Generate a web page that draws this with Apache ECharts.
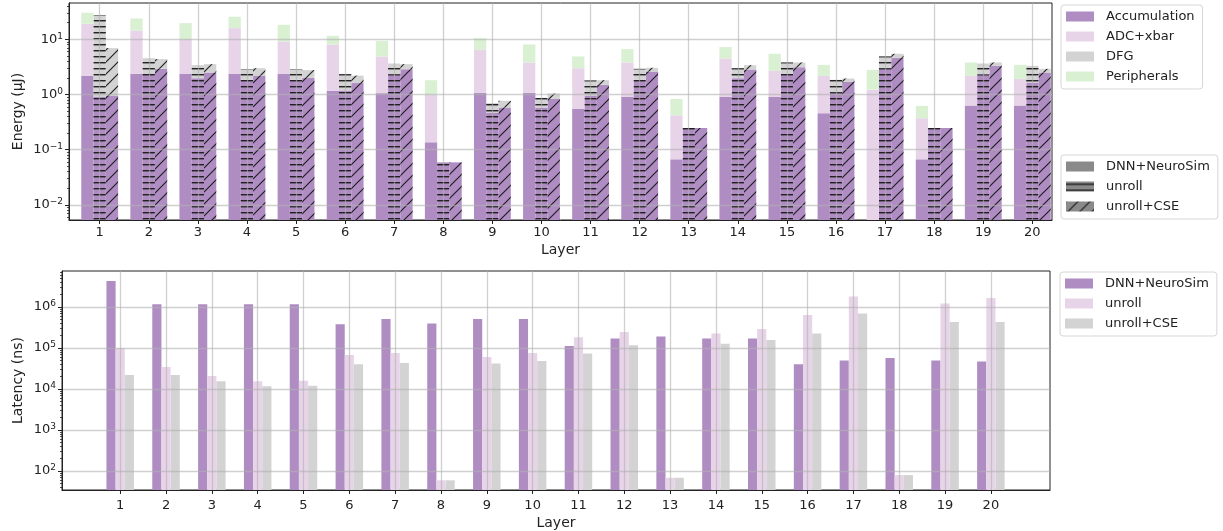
<!DOCTYPE html>
<html><head><meta charset="utf-8">
<script src="https://cdn.jsdelivr.net/npm/echarts@6/dist/echarts.min.js"></script>
<style>html,body{margin:0;padding:0;background:#fff}#c{width:1223px;height:531px}</style>
</head><body><div id="c"></div>
<script>
// ---------------- data ----------------
const layers = [1,2,3,4,5,6,7,8,9,10,11,12,13,14,15,16,17,18,19,20];
const components = ['Accumulation', 'ADC+xbar', 'DFG', 'Peripherals'];
const configs = ['DNN+NeuroSim', 'unroll', 'unroll+CSE'];

// Energy (uJ), stacked components per configuration
const neurosimAccum  = [2.18, 2.37, 2.37, 2.37, 2.37, 1.17, 1.06, 0.136, 1.07, 1.07, 0.55, 0.907, 0.067, 0.907, 0.907, 0.458, 0, 0.067, 0.63, 0.63];
const neurosimAdc    = [17.0, 12.1, 7.7, 13.6, 6.8, 6.9, 3.84, 0.85, 5.4, 2.74, 2.45, 2.9, 0.353, 3.6, 1.78, 1.72, 1.22, 0.305, 1.55, 1.29];
const neurosimDfg    = [0,0,0,0,0,0,0,0,0,0,0,0,0,0,0,0,0,0,0,0];
const neurosimPeriph = [11.1, 9.4, 9.6, 9.7, 9.2, 3.5, 4.5, 0.83, 4.0, 4.27, 1.9, 2.84, 0.41, 2.73, 2.78, 1.27, 1.58, 0.25, 1.63, 1.53];

const unrollAccum  = [0.9, 2.4, 1.98, 1.85, 1.85, 1.18, 2.28, 0.059, 0.47, 0.58, 0.96, 1.85, 0.248, 1.98, 2.37, 1.07, 2.92, 0.248, 2.31, 1.65];
const unrollAdc    = [0,0,0,0,0,0,0,0,0,0,0,0,0,0,0,0,0,0,0,0];
const unrollDfg    = [26.6, 2.16, 1.43, 1.03, 1.03, 1.16, 1.32, 0, 0.23, 0.29, 0.84, 1.07, 0, 1.02, 1.44, 0.78, 1.98, 0, 1.29, 1.66];
const unrollPeriph = [0,0,0,0,0,0,0,0,0,0,0,0,0,0,0,0,0,0,0,0];

const cseAccum  = [0.96, 2.92, 2.51, 2.21, 2.0, 1.61, 2.88, 0.059, 0.58, 0.83, 1.5, 2.61, 0.248, 2.84, 3.13, 1.70, 4.63, 0.248, 3.31, 2.51];
const cseAdc    = [0,0,0,0,0,0,0,0,0,0,0,0,0,0,0,0,0,0,0,0];
const cseDfg    = [5.97, 1.46, 1.04, 0.79, 0.77, 0.59, 0.67, 0, 0.19, 0.21, 0.32, 0.44, 0, 0.56, 0.68, 0.25, 0.84, 0, 0.5, 0.41];
const csePeriph = [0,0,0,0,0,0,0,0,0,0,0,0,0,0,0,0,0,0,0,0];

// Latency (ns)
const latNeurosim = [4.36e6, 1.17e6, 1.17e6, 1.17e6, 1.17e6, 3.81e5, 5.14e5, 3.95e5, 5.14e5, 5.14e5, 1.12e5, 1.7e5, 1.9e5, 1.7e5, 1.7e5, 4.0e4, 4.93e4, 5.73e4, 4.93e4, 4.66e4];
const latUnroll   = [9.9e4, 3.45e4, 2.08e4, 1.54e4, 1.6e4, 6.78e4, 7.6e4, 59, 6.06e4, 7.6e4, 1.83e5, 2.47e5, 68, 2.25e5, 2.93e5, 6.43e5, 1.81e6, 79, 1.22e6, 1.67e6];
const latCse      = [2.2e4, 2.2e4, 1.54e4, 1.16e4, 1.2e4, 4.0e4, 4.33e4, 59, 4.17e4, 4.84e4, 7.31e4, 1.17e5, 68, 1.28e5, 1.58e5, 2.25e5, 6.94e5, 79, 4.34e5, 4.34e5];

// tick labels
const xTickValues = layers;
const energyTicks = [0.01, 0.1, 1, 10];
const latencyTicks = [1e2, 1e3, 1e4, 1e5, 1e6];
const minorMantissas = [2,3,4,5,6,7,8,9];

// ---------------- styling / layout ----------------
const FONT = 'DejaVu Sans';
const TXT = '#222';
const compColors = ['#af8dc3', '#e7d4e8', '#d3d3d3', '#d9f0d3'];
const latColors = ['#af8dc3', '#e7d4e8', '#d3d3d3'];
const E_MIN = 0.00532, E_MAX = 45.6;
const L_MIN = 34.2, L_MAX = 7.6e6;
const TOP_W = 0.25, TOP_OFF = [-0.25, 0, 0.25];
const BOT_W = 0.2, BOT_OFF = [-0.2, 0, 0.2];

function hatch(kind, bg) {
  const c = document.createElement('canvas');
  const s = kind === 'h' ? 6 : 12;
  c.width = s; c.height = s;
  const g = c.getContext('2d');
  if (bg) { g.fillStyle = bg; g.fillRect(0, 0, s, s); }
  if (kind === 'h') {
    g.fillStyle = 'rgba(25,25,25,0.95)'; g.fillRect(0, 2, s, 1);
    g.fillStyle = 'rgba(25,25,25,0.4)'; g.fillRect(0, 3, s, 1);
  } else if (kind === 'd') {
    g.strokeStyle = 'rgba(25,25,25,0.95)'; g.lineWidth = 1.2;
    g.beginPath();
    g.moveTo(-2, s + 2); g.lineTo(s + 2, -2);
    g.moveTo(-2, 2); g.lineTo(2, -2);
    g.moveTo(s - 2, s + 2); g.lineTo(s + 2, s - 2);
    g.stroke();
  }
  return { image: c, repeat: 'repeat' };
}
const HATCH = [null, hatch('h'), hatch('d')];
const LEG_GRAY = '#8a8a8a';
const legendHatch = [LEG_GRAY, hatch('h', LEG_GRAY), hatch('d', LEG_GRAY)];

const energy = [
  [neurosimAccum, neurosimAdc, neurosimDfg, neurosimPeriph],
  [unrollAccum, unrollAdc, unrollDfg, unrollPeriph],
  [cseAccum, cseAdc, cseDfg, csePeriph]
];
const latency = [latNeurosim, latUnroll, latCse];

function minorTicks(lo, hi) {
  const out = [];
  for (let e = Math.floor(Math.log10(lo)); e <= Math.ceil(Math.log10(hi)); e++) {
    minorMantissas.forEach(m => { const v = m * Math.pow(10, e); if (v >= lo && v <= hi) out.push(v); });
  }
  return out;
}

function powLabel(v) {
  const e = Math.round(Math.log10(v));
  return '{b|10}{s|' + (e < 0 ? '\u2212' : '') + Math.abs(e) + '}';
}
const powRich = {
  b: { fontSize: 13, fontFamily: FONT, color: TXT, lineHeight: 15 },
  s: { fontSize: 9, fontFamily: FONT, color: TXT, verticalAlign: 'top', lineHeight: 9 }
};

// ---------------- series ----------------
const series = [];
components.forEach((comp, ci) => {
  const data = [];
  layers.forEach((L, i) => {
    configs.forEach((cfg, k) => {
      let base = 0;
      for (let j = 0; j < ci; j++) base += energy[k][j][i];
      data.push([L + TOP_OFF[k], base, base + energy[k][ci][i], k]);
    });
  });
  series.push({
    type: 'custom', name: comp, xAxisIndex: 0, yAxisIndex: 0, clip: true,
    itemStyle: { color: compColors[ci] },
    encode: { x: 0, y: 2 },
    data,
    renderItem: function (params, api) {
      const x = api.value(0), b = api.value(1), t = api.value(2), k = api.value(3);
      if (!(t > b)) return null;
      const lo = Math.max(b, E_MIN);
      const pl = api.coord([x - TOP_W / 2, lo]);
      const pr = api.coord([x + TOP_W / 2, t]);
      const shape = { x: pl[0], y: pr[1], width: pr[0] - pl[0], height: pl[1] - pr[1] };
      const children = [{ type: 'rect', shape, style: { fill: compColors[ci] } }];
      if (HATCH[k]) children.push({ type: 'rect', shape, style: { fill: HATCH[k] } });
      return { type: 'group', children };
    }
  });
});
// legend-only series for the hatch key
configs.forEach((cfg, k) => {
  series.push({
    type: 'custom', name: 'h:' + cfg, xAxisIndex: 0, yAxisIndex: 0,
    itemStyle: { color: legendHatch[k] }, data: [], renderItem: () => null
  });
});
configs.forEach((cfg, k) => {
  series.push({
    type: 'custom', name: cfg, xAxisIndex: 1, yAxisIndex: 2, clip: true,
    itemStyle: { color: latColors[k] },
    encode: { x: 0, y: 1 },
    data: layers.map((L, i) => [L + BOT_OFF[k], latency[k][i]]),
    renderItem: function (params, api) {
      const x = api.value(0), v = api.value(1);
      const pl = api.coord([x - BOT_W / 2, L_MIN]);
      const pr = api.coord([x + BOT_W / 2, v]);
      return { type: 'rect', shape: { x: pl[0], y: pr[1], width: pr[0] - pl[0], height: pl[1] - pr[1] },
               style: { fill: latColors[k] } };
    }
  });
});

// ---------------- axes ----------------
const gridLine = { show: true, lineStyle: { color: '#b0b0b0', opacity: 0.6, width: 1.3 } };
const axisLine = { show: true, onZero: false, lineStyle: { color: '#222', width: 1 } };
function xAxis(gi, min, max, nameGap, margin) {
  return {
    type: 'value', gridIndex: gi, min, max, z: 3, position: 'bottom',
    name: 'Layer', nameLocation: 'middle', nameGap, nameMoveOverlap: false,
    nameTextStyle: { fontSize: 14, fontFamily: FONT, color: TXT },
    axisLine, splitLine: gridLine,
    axisTick: { show: true, length: 4, inside: false, customValues: xTickValues, lineStyle: { color: '#222' } },
    axisLabel: { customValues: xTickValues, margin, fontSize: 13, fontFamily: FONT, color: TXT, formatter: v => String(v) }
  };
}
function yAxis(gi, min, max, ticks, name, nameGap) {
  return {
    type: 'log', logBase: 10, gridIndex: gi, min, max, z: 3, position: 'left',
    name, nameLocation: 'middle', nameGap, nameMoveOverlap: false,
    nameTextStyle: { fontSize: 14, fontFamily: FONT, color: TXT },
    axisLine, splitLine: gridLine,
    axisTick: { show: true, length: 4, customValues: ticks, lineStyle: { color: '#222' } },
    axisLabel: { customValues: ticks, margin: 6, formatter: powLabel, rich: powRich }
  };
}
function yMinor(gi, min, max) {
  return {
    type: 'log', logBase: 10, gridIndex: gi, min, max, z: 3, position: 'left',
    axisLine: { show: false, onZero: false }, splitLine: { show: false }, axisLabel: { show: false },
    axisTick: { show: true, length: 2, customValues: minorTicks(min, max), lineStyle: { color: '#222', width: 0.8 } }
  };
}

const legendBase = {
  orient: 'vertical', icon: 'rect', itemWidth: 28, itemHeight: 10, itemGap: 7,
  backgroundColor: '#fff', borderColor: '#d6d6d6', borderWidth: 1, borderRadius: 3,
  padding: [5, 8, 6, 5], selectedMode: false,
  textStyle: { fontSize: 13, fontFamily: FONT, color: TXT, padding: [0, 0, 0, 7] }
};

const option = {
  animation: false,
  backgroundColor: '#fff',
  textStyle: { fontFamily: FONT },
  grid: [
    { left: 69, top: 3, width: 983, height: 217, show: true, borderColor: '#222', borderWidth: 1, backgroundColor: 'transparent', outerBoundsMode: 'none', containLabel: false },
    { left: 62, top: 271, width: 988, height: 219, show: true, borderColor: '#222', borderWidth: 1, backgroundColor: 'transparent', outerBoundsMode: 'none', containLabel: false }
  ],
  xAxis: [xAxis(0, 0.375, 20.4, 23, 6), xAxis(1, -0.27, 21.29, 26, 9)],
  yAxis: [
    yAxis(0, E_MIN, E_MAX, energyTicks, 'Energy (\u03bcJ)', 44),
    yMinor(0, E_MIN, E_MAX),
    yAxis(1, L_MIN, L_MAX, latencyTicks, 'Latency (ns)', 37),
    yMinor(1, L_MIN, L_MAX)
  ],
  legend: [
    Object.assign({}, legendBase, { left: 1061, top: 5, data: components }),
    Object.assign({}, legendBase, { left: 1061, top: 155, data: configs.map(c => 'h:' + c), formatter: n => n.replace(/^h:/, '') }),
    Object.assign({}, legendBase, { left: 1060, top: 272, data: configs })
  ],
  series
};

const chart = echarts.init(document.getElementById('c'), null, { renderer: 'canvas' });
chart.setOption(option);
</script>
</body></html>
